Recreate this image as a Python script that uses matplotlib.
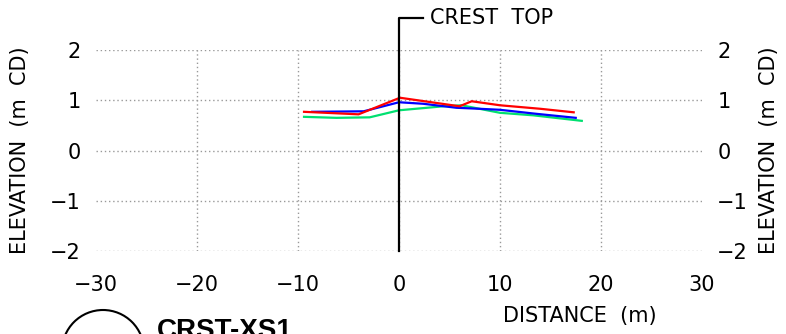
# ───────────────────────── Imports ─────────────────────────
import matplotlib
matplotlib.use("Agg")
import matplotlib.pyplot as plt
from matplotlib.patches import Circle

# ───────────────────────── Survey profiles ─────────────────────────
red_x = [-9.4, -4.0, 0.1, 6.0, 7.2, 10.0, 14.0, 17.3]
red_y = [0.77, 0.72, 1.05, 0.88, 0.98, 0.90, 0.83, 0.76]

blue_x = [-8.6, -3.5, 0.0, 2.4, 5.7, 8.0, 10.0, 13.6, 17.5]
blue_y = [0.77, 0.78, 0.96, 0.93, 0.85, 0.83, 0.81, 0.73, 0.65]

green_x = [-9.4, -6.2, -2.9, 0.0, 4.4, 6.2, 10.0, 13.3, 18.1]
green_y = [0.67, 0.65, 0.66, 0.80, 0.88, 0.90, 0.75, 0.70, 0.59]

x_ticks = [-30, -20, -10, 0, 10, 20, 30]
y_ticks = [-2, -1, 0, 1, 2]
crest_x = 0.0
crest_top = 2.63
section_name = "CRST-XS1"

plt.rcParams["font.family"] = ["DejaVu Sans"]

fig = plt.figure(figsize=(7.86, 3.34), dpi=100)
ax = fig.add_axes([0.1221, 0.2485, 0.771, 0.6018])

# ───────────────────────── Grid (dotted, no frame) ─────────────────────────
for xv in x_ticks[1:-1]:
    ax.plot([xv, xv], [-2, 2], color="#999999", lw=1.0, ls=(0, (1, 2)), zorder=1)
for yv in y_ticks:
    ax.plot([-30, 30], [yv, yv], color="#999999", lw=1.0, ls=(0, (1, 2)), zorder=1)

# ───────────────────────── Profiles ─────────────────────────
ax.plot(green_x, green_y, color="#00e070", lw=1.6, zorder=3)
ax.plot(blue_x, blue_y, color="#0000ff", lw=1.6, zorder=4)
ax.plot(red_x, red_y, color="#ff0000", lw=1.6, zorder=5)

# ───────────────────────── Crest marker ─────────────────────────
ax.plot([crest_x, crest_x, 2.4], [-2, crest_top, crest_top], color="black", lw=1.6,
        clip_on=False, zorder=6)
ax.text(3.1, crest_top, "CREST  TOP", fontsize=15, va="center", ha="left", clip_on=False)

ax.set_xlim(-30, 30)
ax.set_ylim(-2, 2)
ax.set_xticks(x_ticks)
ax.set_yticks(y_ticks)
for s in ax.spines.values():
    s.set_visible(False)
ax.tick_params(axis="both", length=0, labelsize=15)
ax.tick_params(axis="x", pad=17)
ax.tick_params(axis="y", labelleft=True, labelright=True, pad=11)

# ───────────────────────── Labels ─────────────────────────
fig.text(20 / 786, 1 - 150 / 334, "ELEVATION  (m  CD)", rotation=90, fontsize=15,
         ha="center", va="center")
fig.text(769 / 786, 1 - 150 / 334, "ELEVATION  (m  CD)", rotation=90, fontsize=15,
         ha="center", va="center")
fig.text(580 / 786, 1 - 316 / 334, "DISTANCE  (m)", fontsize=15, ha="center", va="center")

# section bubble + title (cut off at bottom of sheet, as in drawing)
fig.patches.append(Circle((103, -17), 41, transform=None, fill=False,
                          edgecolor="black", lw=1.5))
fig.text(157 / 786, 1 - 318 / 334, section_name, fontsize=20, fontweight="bold",
         family="Liberation Sans", ha="left", va="top")

fig.savefig("out.png", dpi=100)
